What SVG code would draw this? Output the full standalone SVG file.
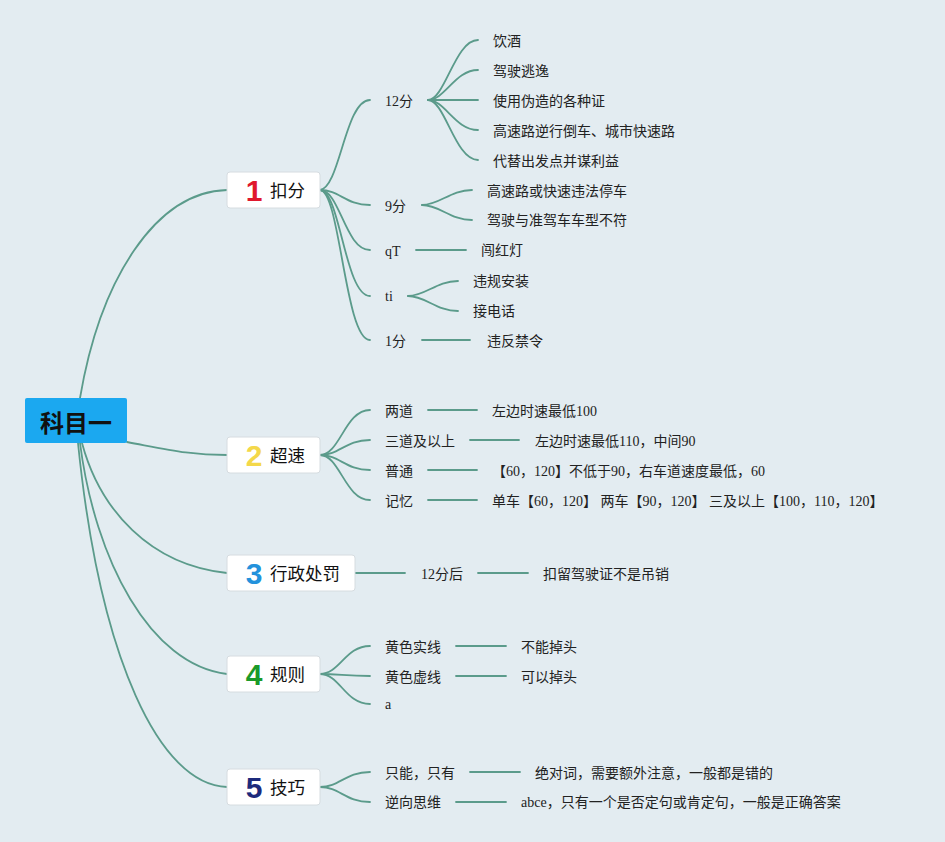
<svg xmlns="http://www.w3.org/2000/svg" width="945" height="842" viewBox="0 0 945 842">
<style>
.c{fill:none;stroke:#5b9b8b;stroke-width:1.8;stroke-linecap:round}
.t{font-family:"Liberation Serif","Noto Sans CJK SC",serif;font-size:14px;fill:#222}
.nl{font-family:"Noto Sans CJK SC",sans-serif;font-size:17.5px;fill:#111}
.num{font-family:"Liberation Sans",sans-serif;font-weight:bold;font-size:30px;text-anchor:middle}
.box{fill:#fff;stroke:#d6dce0;stroke-width:1}
</style>
<rect width="945" height="842" fill="#e3ecf1"/>
<g id="connectors">
<path class="c" d="M80,398 C100,280 155,192 227,190"/>
<path class="c" d="M127,442 C170,450 190,455 227,455"/>
<path class="c" d="M82,443 C100,510 150,565 227,573"/>
<path class="c" d="M80,443 C95,560 150,665 227,674"/>
<path class="c" d="M78,443 C100,660 160,785 227,787"/>
<path class="c" d="M320,190 C340,188 345,100 370,100"/>
<path class="c" d="M320,190 C340,190 345,205 370,205"/>
<path class="c" d="M320,190 C340,190 345,250 370,250"/>
<path class="c" d="M320,190 C340,190 345,296 370,296"/>
<path class="c" d="M320,190 C340,190 345,340 370,340"/>
<path class="c" d="M428,100 C445,100 455,40 478,40"/>
<path class="c" d="M428,100 C445,100 455,70 478,70"/>
<path class="c" d="M428,100 L478,100"/>
<path class="c" d="M428,100 C445,100 455,130 478,130"/>
<path class="c" d="M428,100 C445,100 455,160 478,160"/>
<path class="c" d="M422,205 C440,205 450,190 472,190"/>
<path class="c" d="M422,205 C440,205 450,220 472,220"/>
<path class="c" d="M416,250 L466,250"/>
<path class="c" d="M408,296 C426,296 436,281 458,281"/>
<path class="c" d="M408,296 C426,296 436,311 458,311"/>
<path class="c" d="M422,340 L470,340"/>
<path class="c" d="M320,455 C340,455 345,410 370,410"/>
<path class="c" d="M320,455 C340,455 345,440 370,440"/>
<path class="c" d="M320,455 C340,455 345,470 370,470"/>
<path class="c" d="M320,455 C340,455 345,500 370,500"/>
<path class="c" d="M428,410 L477,410"/>
<path class="c" d="M470,440 L519,440"/>
<path class="c" d="M428,470 L477,470"/>
<path class="c" d="M428,500 L477,500"/>
<path class="c" d="M355,573 L405,573"/>
<path class="c" d="M478,573 L528,573"/>
<path class="c" d="M320,674 C340,674 345,646 370,646"/>
<path class="c" d="M320,674 C340,674 345,676 370,676"/>
<path class="c" d="M320,674 C340,674 345,704 370,704"/>
<path class="c" d="M456,646 L506,646"/>
<path class="c" d="M456,676 L506,676"/>
<path class="c" d="M320,787 C340,787 345,772 370,772"/>
<path class="c" d="M320,787 C340,787 345,802 370,802"/>
<path class="c" d="M470,772 L520,772"/>
<path class="c" d="M456,802 L506,802"/>
</g>
<g id="root">
<rect x="25" y="398" width="102" height="45" rx="2" fill="#1ba8f0"/>
<text x="76" y="432" text-anchor="middle" font-family="'Noto Sans CJK SC',sans-serif" font-weight="bold" font-size="24" fill="#111">科目一</text>
</g>
<g id="n1">
<rect class="box" x="227" y="172" width="93" height="36" rx="3"/>
<text class="num" x="254" y="201" fill="#e0182d">1</text>
<text class="nl" x="270" y="196.6">扣分</text>
</g>
<g id="n2">
<rect class="box" x="227" y="437" width="93" height="36" rx="3"/>
<text class="num" x="254" y="466" fill="#f4d84a">2</text>
<text class="nl" x="270" y="461.6">超速</text>
</g>
<g id="n3">
<rect class="box" x="227" y="555" width="128" height="36" rx="3"/>
<text class="num" x="254" y="584" fill="#2392dc">3</text>
<text class="nl" x="270" y="579.6">行政处罚</text>
</g>
<g id="n4">
<rect class="box" x="227" y="656" width="93" height="36" rx="3"/>
<text class="num" x="254" y="685" fill="#1a9a2a">4</text>
<text class="nl" x="270" y="680.6">规则</text>
</g>
<g id="n5">
<rect class="box" x="227" y="769" width="93" height="36" rx="3"/>
<text class="num" x="254" y="798" fill="#1c2a7c">5</text>
<text class="nl" x="270" y="793.6">技巧</text>
</g>
<g id="n1-children">
<text class="t" x="385" y="106">12分</text>
<text class="t" x="385" y="211">9分</text>
<text class="t" x="385" y="256">qT</text>
<text class="t" x="385" y="301">ti</text>
<text class="t" x="385" y="346">1分</text>
<text class="t" x="493" y="46">饮酒</text>
<text class="t" x="493" y="76">驾驶逃逸</text>
<text class="t" x="493" y="106">使用伪造的各种证</text>
<text class="t" x="493" y="136">高速路逆行倒车、城市快速路</text>
<text class="t" x="493" y="166">代替出发点并谋利益</text>
<text class="t" x="487" y="196">高速路或快速违法停车</text>
<text class="t" x="487" y="225">驾驶与准驾车车型不符</text>
<text class="t" x="481" y="255">闯红灯</text>
<text class="t" x="473" y="286">违规安装</text>
<text class="t" x="473" y="316">接电话</text>
<text class="t" x="487" y="346">违反禁令</text>
</g>
<g id="n2-children">
<text class="t" x="385" y="416">两道</text>
<text class="t" x="385" y="446">三道及以上</text>
<text class="t" x="385" y="476">普通</text>
<text class="t" x="385" y="506">记忆</text>
<text class="t" x="492" y="416">左边时速最低100</text>
<text class="t" x="535" y="446">左边时速最低110，中间90</text>
<text class="t" x="492" y="476">【60，120】不低于90，右车道速度最低，60</text>
<text class="t" x="492" y="506">单车【60，120】 两车【90，120】 三及以上【100，110，120】</text>
</g>
<g id="n3-children">
<text class="t" x="421" y="579">12分后</text>
<text class="t" x="543" y="579">扣留驾驶证不是吊销</text>
</g>
<g id="n4-children">
<text class="t" x="385" y="652">黄色实线</text>
<text class="t" x="385" y="682">黄色虚线</text>
<text class="t" x="385" y="709">a</text>
<text class="t" x="521" y="652">不能掉头</text>
<text class="t" x="521" y="682">可以掉头</text>
</g>
<g id="n5-children">
<text class="t" x="385" y="778">只能，只有</text>
<text class="t" x="385" y="807">逆向思维</text>
<text class="t" x="535" y="778">绝对词，需要额外注意，一般都是错的</text>
<text class="t" x="521" y="807">abce，只有一个是否定句或肯定句，一般是正确答案</text>
</g>
</svg>
